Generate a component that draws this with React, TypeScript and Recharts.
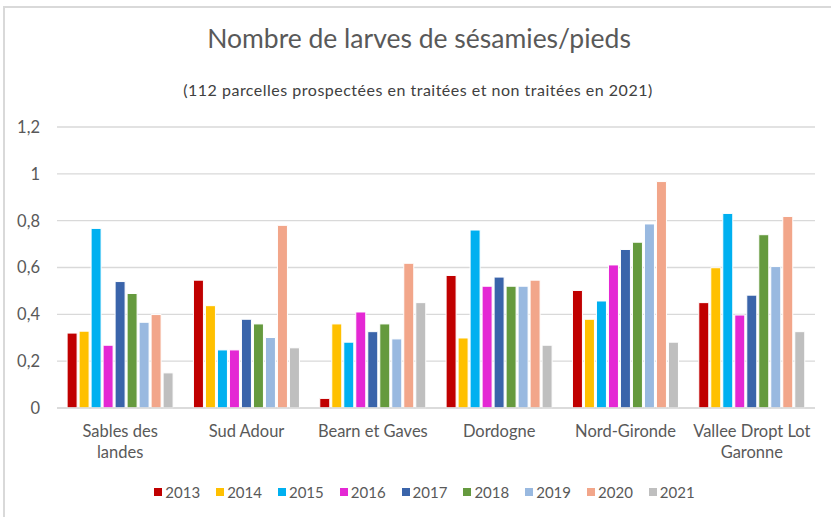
import { BarChart, Bar, XAxis, YAxis, CartesianGrid, Legend } from "recharts";

const regions = [
  "Sables des landes",
  "Sud Adour",
  "Bearn et Gaves",
  "Dordogne",
  "Nord-Gironde",
  "Vallee Dropt Lot Garonne",
];
const regionLines = [
  ["Sables des", "landes"],
  ["Sud Adour"],
  ["Bearn et Gaves"],
  ["Dordogne"],
  ["Nord-Gironde"],
  ["Vallee Dropt Lot", "Garonne"],
];

const years = ["2013", "2014", "2015", "2016", "2017", "2018", "2019", "2020", "2021"];
const yearColors = [
  "#C00000",
  "#FFC000",
  "#00B0F0",
  "#E428D4",
  "#3A64AA",
  "#659A3E",
  "#99B9E0",
  "#F2A68A",
  "#BFBFBF",
];

// one list per region, in year order 2013..2021
const sables = [0.32, 0.328, 0.767, 0.268, 0.54, 0.489, 0.366, 0.399, 0.15];
const sudAdour = [0.546, 0.437, 0.248, 0.248, 0.379, 0.359, 0.301, 0.78, 0.257];
const bearn = [0.041, 0.359, 0.281, 0.41, 0.326, 0.359, 0.295, 0.618, 0.45];
const dordogne = [0.566, 0.299, 0.76, 0.52, 0.559, 0.52, 0.52, 0.546, 0.268];
const nordGironde = [0.502, 0.379, 0.457, 0.611, 0.677, 0.708, 0.786, 0.967, 0.281];
const vallee = [0.45, 0.599, 0.831, 0.397, 0.482, 0.74, 0.604, 0.818, 0.326];

const yTicks = [0, 0.2, 0.4, 0.6, 0.8, 1, 1.2];

const byRegion = [sables, sudAdour, bearn, dordogne, nordGironde, vallee];
const data = regions.map((name, i) => {
  const row: Record<string, string | number> = { name };
  years.forEach((y, j) => {
    row[y] = byRegion[i][j];
  });
  return row;
});

const FONT = "Lato, 'Liberation Sans', sans-serif";
const TXT = "#595959";

function RegionTick(props: any) {
  const { x, y, payload } = props;
  const idx = regions.indexOf(payload.value);
  const lines = regionLines[idx] || [payload.value];
  return (
    <g>
      {lines.map((l, k) => (
        <text
          key={k}
          x={x}
          y={y + 21 + k * 21}
          textAnchor="middle"
          fontSize={16.5}
          fontFamily={FONT}
          fill={TXT}
        >
          {l}
        </text>
      ))}
    </g>
  );
}

function LegendRow() {
  return (
    <div style={{ display: "flex", justifyContent: "center", gap: 16, fontFamily: FONT, fontSize: 15, color: TXT }}>
      {years.map((y, i) => (
        <span key={y} style={{ display: "flex", alignItems: "center" }}>
          <span style={{ width: 8, height: 8, background: yearColors[i], marginRight: 3 }} />
          {y}
        </span>
      ))}
    </div>
  );
}

export default function App() {
  return (
    <div style={{ position: "absolute", left: 0, top: 0, width: 831, height: 517, background: "#fff" }}>
      <div
        style={{
          position: "absolute",
          left: 3,
          top: 6,
          width: 828,
          height: 511,
          borderTop: "2px solid #D9D9D9",
          borderLeft: "2px solid #D9D9D9",
          boxSizing: "border-box",
        }}
      />
      <div
        style={{
          position: "absolute",
          left: 0,
          top: 22,
          width: 838,
          textAlign: "center",
          fontFamily: FONT,
          fontSize: 26.5,
          color: TXT,
        }}
      >
        Nombre de larves de sésamies/pieds
      </div>
      <div
        style={{
          position: "absolute",
          left: 0,
          top: 80,
          width: 836,
          textAlign: "center",
          fontFamily: FONT,
          fontSize: 16,
          letterSpacing: 0.5,
          color: "#404040",
        }}
      >
        (112 parcelles prospectées en traitées et non traitées en 2021)
      </div>
      <div style={{ position: "absolute", left: 0, top: 0 }}>
        <BarChart
          width={831}
          height={517}
          data={data}
          margin={{ top: 127, right: 16, bottom: 49, left: 0 }}
          barCategoryGap="8%"
          barGap={2}
        >
          <CartesianGrid vertical={false} stroke="#D9D9D9" strokeWidth={1.3} />
          <XAxis
            dataKey="name"
            tick={<RegionTick />}
            tickLine={false}
            axisLine={{ stroke: "#D9D9D9", strokeWidth: 1.3 }}
            height={40}
            interval={0}
          />
          <YAxis
            width={57}
            domain={[0, 1.2]}
            ticks={yTicks}
            tickLine={false}
            axisLine={false}
            tickMargin={11}
            tick={{ fontSize: 16.5, fontFamily: FONT, fill: TXT }}
            tickFormatter={(v: number) => String(v).replace(".", ",")}
          />
          <Legend
            verticalAlign="bottom"
            content={() => <LegendRow />}
            wrapperStyle={{ top: 483, bottom: "auto", left: 9, width: 831, height: 20 }}
          />
          {years.map((y, i) => (
            <Bar
              key={y}
              dataKey={y}
              fill={yearColors[i]}
              stroke="#fff"
              strokeWidth={1}
              isAnimationActive={false}
            />
          ))}
        </BarChart>
      </div>
    </div>
  );
}
